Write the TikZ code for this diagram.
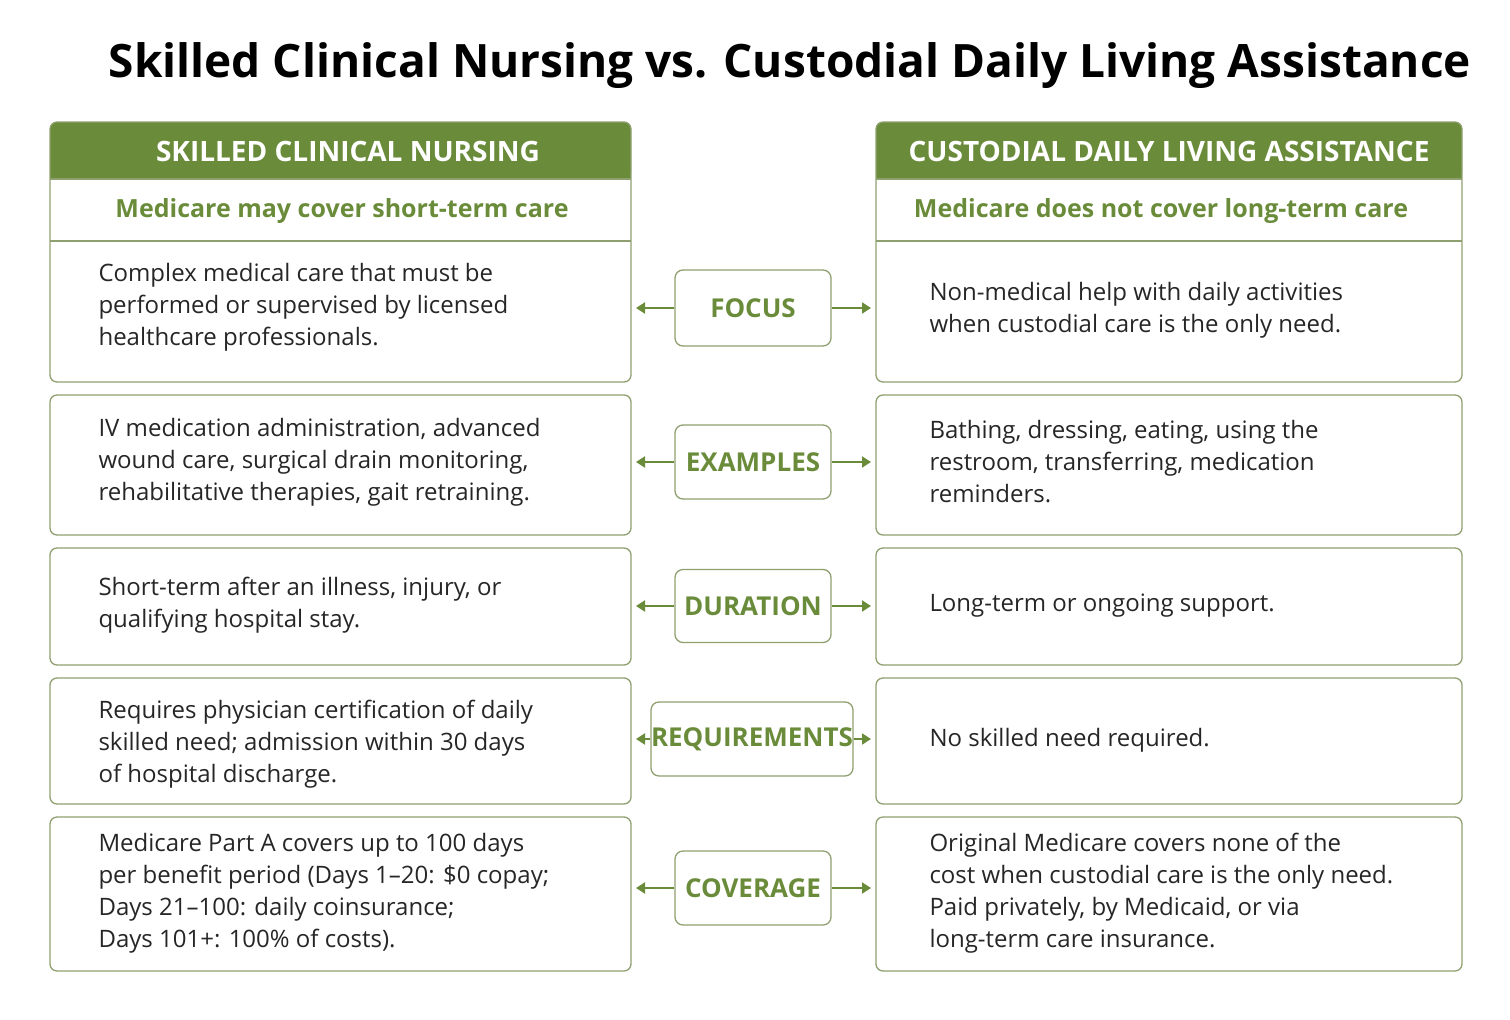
\documentclass[tikz,border=0pt]{standalone}
\usepackage{fontspec}
\setmainfont{Open Sans}
\usetikzlibrary{arrows.meta}
\definecolor{leaf}{HTML}{6A8C3A}
\definecolor{rim}{HTML}{8FA070}
\begin{document}
\begin{tikzpicture}[x=1pt,y=-1pt,
  panel/.style={draw=rim, line width=1.3pt, rounded corners=7pt},
  body/.style={anchor=west, align=left, font=\fontsize{24}{32}\selectfont, text=black!85},
  tag/.style={draw=rim, line width=1.3pt, rounded corners=8pt, text=leaf,
    font=\fontsize{26}{30}\selectfont\bfseries, inner sep=0pt},
  link/.style={-{Triangle[length=9pt,width=11pt]}, draw=leaf, line width=2pt}]
\useasboundingbox (0,0) rectangle (1510,1020);
\node (title) at (790,66) {\fontsize{46}{50}\selectfont\bfseries Skilled Clinical Nursing vs. Custodial Daily Living Assistance};
% left column
\fill[leaf, rounded corners=7pt] (50,122) rectangle (631,179);
\fill[leaf] (50,160) rectangle (631,179);
\draw[panel] (50,122) rectangle (631,382);
\draw[rim, line width=1.3pt] (50,179) -- (631,179) (50,241) -- (631,241);
\node[text=white, font=\fontsize{28}{30}\selectfont\bfseries] (lhead) at (348,151) {SKILLED CLINICAL NURSING};
\node[text=leaf, font=\fontsize{25}{30}\selectfont\bfseries] (lsub) at (342,211) {Medicare may cover short-term care};
\draw[panel] (50,395) rectangle (631,535);
\draw[panel] (50,548) rectangle (631,665);
\draw[panel] (50,678) rectangle (631,804);
\draw[panel] (50,817) rectangle (631,971);
\node[body] (l1) at (95,307) {Complex medical care that must be\\performed or supervised by licensed\\healthcare professionals.};
\node[body] (l2) at (95,462) {IV medication administration, advanced\\wound care, surgical drain monitoring,\\rehabilitative therapies, gait retraining.};
\node[body] (l3) at (95,605) {Short-term after an illness, injury, or\\qualifying hospital stay.};
\node[body] (l4) at (95,744) {Requires physician certification of daily\\skilled need; admission within 30 days\\of hospital discharge.};
\node[body] (l5) at (95,893) {Medicare Part A covers up to 100 days\\per benefit period (Days 1–20: \$0 copay;\\Days 21–100: daily coinsurance;\\Days 101+: 100\% of costs).};
% right column
\fill[leaf, rounded corners=7pt] (876,122) rectangle (1462,179);
\fill[leaf] (876,160) rectangle (1462,179);
\draw[panel] (876,122) rectangle (1462,382);
\draw[rim, line width=1.3pt] (876,179) -- (1462,179) (876,241) -- (1462,241);
\node[text=white, font=\fontsize{28}{30}\selectfont\bfseries] (rhead) at (1169,151) {CUSTODIAL DAILY LIVING ASSISTANCE};
\node[text=leaf, font=\fontsize{25}{30}\selectfont\bfseries] (rsub) at (1161,211) {Medicare does not cover long-term care};
\draw[panel] (876,395) rectangle (1462,535);
\draw[panel] (876,548) rectangle (1462,665);
\draw[panel] (876,678) rectangle (1462,804);
\draw[panel] (876,817) rectangle (1462,971);
\node[body] (r1) at (926,310) {Non-medical help with daily activities\\when custodial care is the only need.};
\node[body] (r2) at (926,462) {Bathing, dressing, eating, using the\\restroom, transferring, medication\\reminders.};
\node[body] (r3) at (926,606) {Long-term or ongoing support.};
\node[body] (r4) at (926,740) {No skilled need required.};
\node[body] (r5) at (926,893) {Original Medicare covers none of the\\cost when custodial care is the only need.\\Paid privately, by Medicaid, or via\\long-term care insurance.};
% middle tags
\node[tag, minimum width=156pt, minimum height=76pt] (focus) at (753,308) {FOCUS};
\node[tag, minimum width=156pt, minimum height=74pt] (examples) at (753,462) {EXAMPLES};
\node[tag, minimum width=156pt, minimum height=73pt] (duration) at (753,606) {DURATION};
\node[tag, minimum width=183pt, minimum height=74pt] (requirements) at (752,739) {REQUIREMENTS};
\node[tag, minimum width=156pt, minimum height=74pt] (coverage) at (753,888) {COVERAGE};
\foreach \t/\y in {focus/308, examples/462, duration/606, requirements/739, coverage/888} {
  \coordinate (\t-l) at (636,\y);
  \coordinate (\t-r) at (871,\y);
  \draw[link] (\t) -- (\t-l);
  \draw[link] (\t) -- (\t-r);
}
\end{tikzpicture}
\end{document}
